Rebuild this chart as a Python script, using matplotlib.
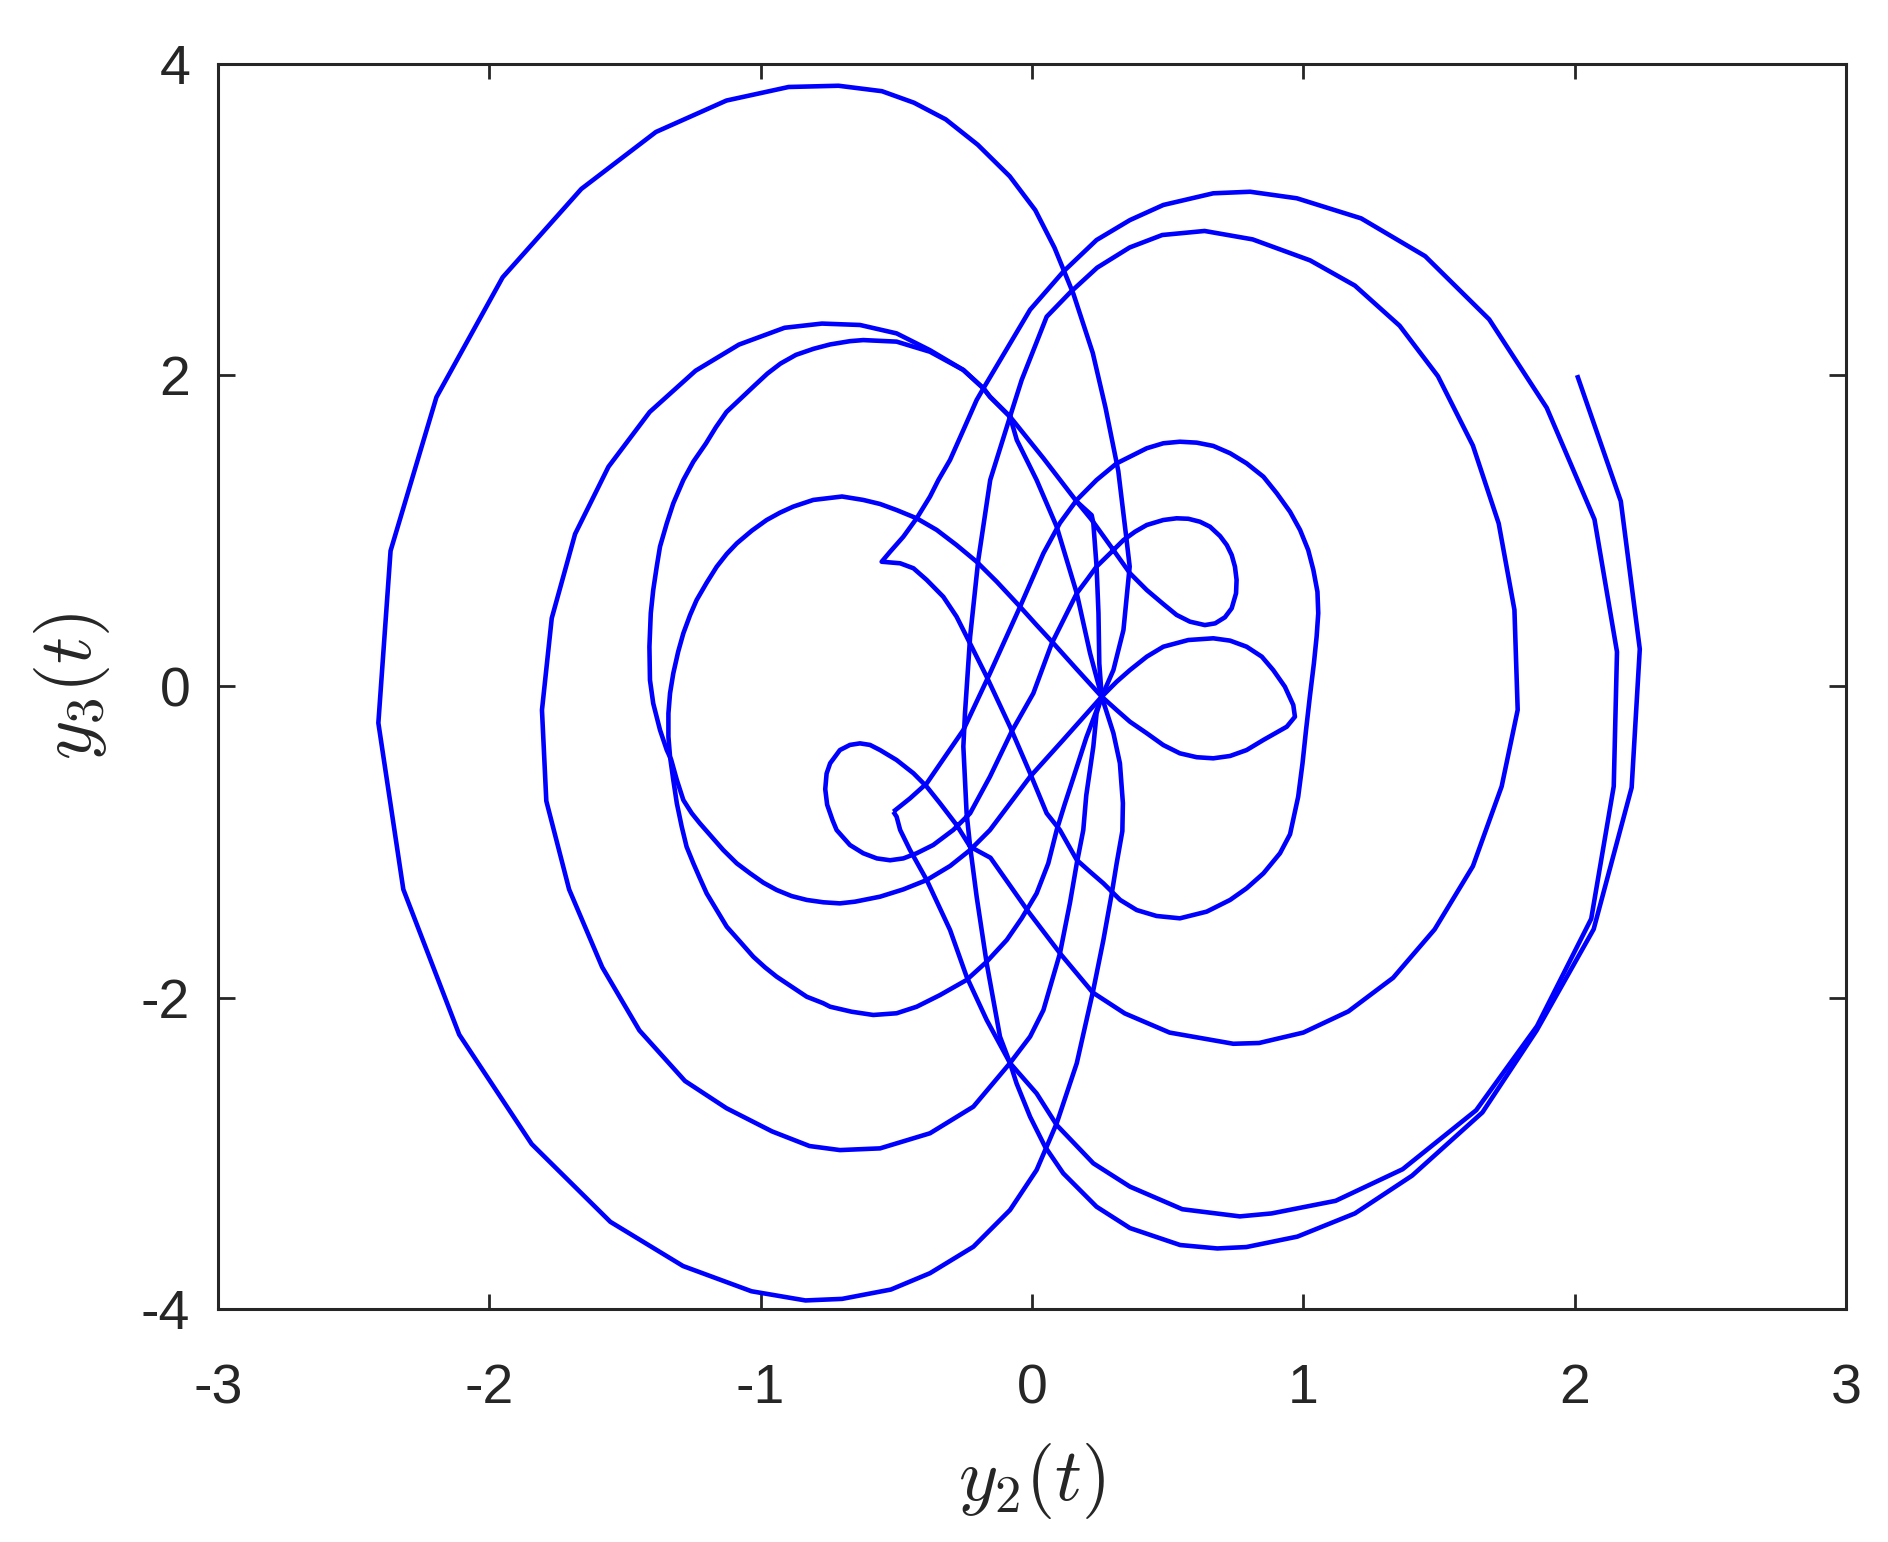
import matplotlib
matplotlib.use("Agg")
import matplotlib.pyplot as plt

plt.rcParams['font.family'] = ['Liberation Sans', 'DejaVu Sans']
plt.rcParams['mathtext.fontset'] = 'cm'
plt.rcParams['axes.unicode_minus'] = False

# ---- traced trajectory pieces (y2, y3) ----
start_y2 = [2.009, 2.17, 2.24, 2.21, 2.07, 1.86, 1.66, 1.401, 1.19, 0.978, 0.79, 0.683, 0.546, 0.361, 0.238, 0.115, 0.048, -0.007, -0.057, -0.081, -0.118, -0.167, -0.204, -0.228, -0.241, -0.253, -0.247, -0.228, -0.198, -0.154, -0.081, -0.038, 0.054, 0.14, 0.24, 0.36, 0.48, 0.636, 0.813, 1.025, 1.19, 1.355, 1.496, 1.625, 1.72, 1.778, 1.79, 1.731, 1.625, 1.484, 1.331, 1.166, 1.0, 0.837, 0.742, 0.507, 0.342, 0.224, 0.107, -0.011, -0.153, -0.228,
            -0.278, -0.339, -0.388, -0.437, -0.499, -0.560, -0.597, -0.634, -0.671, -0.708, -0.744, -0.757, -0.762, -0.755, -0.735, -0.720, -0.671, -0.622, -0.572, -0.523, -0.474, -0.425, -0.364, -0.29,
            -0.228, -0.155, -0.075, 0.005, 0.073, 0.165, 0.202, 0.238, 0.288, 0.337, 0.380, 0.423, 0.484, 0.533, 0.576, 0.619, 0.656, 0.693, 0.718, 0.736, 0.748, 0.754, 0.752, 0.736, 0.711, 0.675, 0.637, 0.582, 0.533, 0.484, 0.423, 0.361, 0.30, 0.22, 0.165, 0.042, -0.081, -0.155, -0.179,
            -0.253, -0.376, -0.499, -0.622, -0.671, -0.744, -0.805, -0.87, -0.927, -0.975, -1.019, -1.07, -1.126, -1.165, -1.202, -1.248, -1.285, -1.322, -1.346, -1.371, -1.383, -1.396, -1.405, -1.410, -1.408, -1.396, -1.371, -1.346, -1.33, -1.309, -1.285, -1.254, -1.224, -1.181, -1.138, -1.088, -1.039, -0.990, -0.941, -0.886, -0.830, -0.769, -0.708, -0.652, -0.560, -0.474, -0.388, -0.302, -0.228, -0.155, -0.007, 0.115, 0.257]
start_y3 = [2.0, 1.19, 0.24, -0.65, -1.56, -2.21, -2.737, -3.143, -3.386, -3.535, -3.602, -3.611, -3.589, -3.48, -3.343, -3.128, -2.957, -2.765, -2.55, -2.42, -2.25, -1.779, -1.351, -1.03, -0.815, -0.387, -0.173, 0.32, 0.812, 1.326, 1.733, 1.969, 2.375, 2.53, 2.69, 2.82, 2.9, 2.926, 2.872, 2.737, 2.575, 2.317, 1.993, 1.547, 1.047, 0.492, -0.151, -0.642, -1.155, -1.561, -1.872, -2.088, -2.224, -2.291, -2.296, -2.224, -2.101, -1.967, -1.723, -1.453, -1.101, -1.03,
            -0.890, -0.751, -0.644, -0.558, -0.473, -0.409, -0.376, -0.366, -0.376, -0.409, -0.494, -0.56, -0.66, -0.76, -0.86, -0.923, -1.019, -1.072, -1.105, -1.117, -1.105, -1.072, -1.019, -0.922,
            -0.815, -0.58, -0.29, -0.044, 0.277, 0.598, 0.684, 0.77, 0.855, 0.94, 0.994, 1.037, 1.069, 1.08, 1.077, 1.058, 1.026, 0.966, 0.908, 0.844, 0.769, 0.684, 0.598, 0.502, 0.444, 0.405, 0.394, 0.416, 0.459, 0.529, 0.619, 0.727, 0.876, 1.07, 1.187, 1.466, 1.733, 1.861, 1.915,
            2.033, 2.15, 2.215, 2.225, 2.218, 2.197, 2.169, 2.13, 2.074, 2.01, 1.939, 1.855, 1.763, 1.665, 1.56, 1.444, 1.326, 1.176, 1.048, 0.898, 0.77, 0.619, 0.470, 0.255, 0.041, -0.109, -0.280, -0.409, -0.47, -0.601, -0.730, -0.815, -0.880, -0.966, -1.051, -1.137, -1.201, -1.261, -1.308, -1.347, -1.372, -1.387, -1.394, -1.383, -1.351, -1.304, -1.244, -1.154, -1.051, -0.923, -0.58, -0.344, -0.066]

lobe_y2 = [0.257, 0.312, 0.361, 0.423, 0.484, 0.576, 0.668, 0.730, 0.791, 0.847, 0.889, 0.932, 0.963, 0.969, 0.939, 0.853, 0.791, 0.730, 0.668, 0.607, 0.545, 0.484, 0.423, 0.361, 0.312, 0.257, 0.248, 0.245, 0.238, 0.226, 0.22, 0.165]
lobe_y3 = [-0.066, 0.030, 0.105, 0.191, 0.255, 0.298, 0.309, 0.294, 0.255, 0.191, 0.105, -0.002, -0.120, -0.195, -0.259, -0.344, -0.409, -0.447, -0.462, -0.455, -0.430, -0.377, -0.301, -0.227, -0.152, -0.066, 0.148, 0.47, 0.77, 1.05, 1.10, 1.187]

cycle_y2 = [-0.511, -0.45, -0.388, -0.32, -0.253, -0.155, -0.044, 0.042, 0.103, 0.165, 0.238, 0.312, 0.423, 0.484, 0.545, 0.607, 0.668, 0.730, 0.791, 0.853, 0.902, 0.951, 0.988, 1.018, 1.037, 1.052, 1.055, 1.049, 1.039, 1.024, 1.010, 0.997, 0.981, 0.951, 0.914, 0.853, 0.791, 0.730, 0.644, 0.545, 0.459, 0.386, 0.325, 0.263, 0.214, 0.165, 0.103, 0.054, -0.007, -0.081, -0.167, -0.204, -0.241, -0.278, -0.327, -0.388, -0.437, -0.486, -0.554, -0.523, -0.474, -0.425, -0.376, -0.345, -0.302, -0.253, -0.204, -0.179, -0.007, 0.115, 0.238, 0.361, 0.484, 0.668, 0.804, 0.976, 1.213, 1.449, 1.685, 1.897, 2.073, 2.156, 2.144, 2.061, 1.861, 1.637, 1.366, 1.119, 0.883, 0.766, 0.554, 0.361, 0.226, 0.091, 0.017, -0.081, -0.167, -0.241, -0.302, -0.388, -0.45, -0.486, -0.499, -0.511]
cycle_y3 = [-0.805, -0.72, -0.623, -0.45, -0.28, 0.084, 0.512, 0.855, 1.05, 1.198, 1.326, 1.433, 1.530, 1.562, 1.572, 1.566, 1.545, 1.498, 1.433, 1.347, 1.241, 1.122, 1.005, 0.876, 0.748, 0.608, 0.470, 0.320, 0.149, -0.066, -0.280, -0.494, -0.709, -0.95, -1.072, -1.201, -1.297, -1.372, -1.447, -1.490, -1.475, -1.437, -1.372, -1.265, -1.191, -1.115, -0.923, -0.815, -0.558, -0.259, 0.062, 0.191, 0.320, 0.448, 0.576, 0.684, 0.759, 0.791, 0.801, 0.865, 0.962, 1.08, 1.219, 1.326, 1.455, 1.647, 1.84, 1.915, 2.42, 2.664, 2.868, 2.996, 3.093, 3.168, 3.178, 3.136, 3.007, 2.764, 2.358, 1.79, 1.073, 0.222, -0.642, -1.493, -2.183, -2.723, -3.102, -3.305, -3.386, -3.405, -3.359, -3.214, -3.064, -2.818, -2.615, -2.42, -2.143, -1.865, -1.565, -1.244, -1.05, -0.922, -0.837, -0.805]

loop12_y2 = [0.257, 0.165, 0.079, 0.017, -0.044, -0.130, -0.204, -0.278, -0.351, -0.425, -0.499, -0.560, -0.622, -0.70, -0.806, -0.880, -0.929, -0.978, -1.033, -1.088, -1.125, -1.162, -1.199, -1.236, -1.260, -1.285, -1.304, -1.322, -1.334, -1.340, -1.340, -1.334, -1.322, -1.309, -1.291, -1.273, -1.248, -1.224, -1.199, -1.162, -1.125, -1.076, -1.027, -0.984, -0.941, -0.886, -0.830, -0.77, -0.744, -0.665, -0.585, -0.499, -0.425, -0.339, -0.241, -0.167, -0.093, -0.038, 0.017, 0.060, 0.091, 0.12, 0.15, 0.2, 0.257]
loop12_y3 = [-0.066, 0.110, 0.277, 0.394, 0.512, 0.673, 0.801, 0.908, 1.005, 1.080, 1.133, 1.172, 1.198, 1.22, 1.198, 1.155, 1.116, 1.069, 1.0, 0.919, 0.851, 0.769, 0.666, 0.555, 0.459, 0.341, 0.223, 0.084, -0.044, -0.173, -0.323, -0.452, -0.601, -0.751, -0.901, -1.030, -1.137, -1.233, -1.330, -1.437, -1.544, -1.640, -1.737, -1.805, -1.865, -1.929, -1.994, -2.035, -2.058, -2.09, -2.111, -2.100, -2.058, -1.983, -1.886, -1.769, -1.629, -1.490, -1.330, -1.137, -0.923, -0.76, -0.6, -0.33, -0.066]

loop2_y2 = [-0.179, -0.253, -0.376, -0.499, -0.634, -0.774, -0.912, -1.08, -1.24, -1.409, -1.561, -1.684, -1.77, -1.806, -1.79, -1.706, -1.584, -1.447, -1.279, -1.126, -0.958, -0.82, -0.708, -0.56, -0.376, -0.216, -0.081, -0.007, 0.042, 0.103, 0.14, 0.165, 0.189, 0.2, 0.226, 0.238, 0.257, 0.214, 0.165, 0.091, 0.017, -0.056, -0.081, -0.155, -0.179]
loop2_y3 = [1.915, 2.033, 2.16, 2.268, 2.322, 2.331, 2.304, 2.196, 2.028, 1.763, 1.411, 0.979, 0.438, -0.152, -0.736, -1.304, -1.804, -2.21, -2.535, -2.71, -2.859, -2.953, -2.979, -2.968, -2.871, -2.70, -2.42, -2.25, -2.08, -1.715, -1.39, -1.137, -0.923, -0.7, -0.387, -0.173, -0.066, 0.213, 0.598, 1.026, 1.326, 1.583, 1.733, 1.861, 1.915]

big_y2 = [0.257, 0.30, 0.324, 0.335, 0.333, 0.312, 0.294, 0.263, 0.226, 0.165, 0.091, 0.017, -0.081, -0.216, -0.376, -0.52, -0.70, -0.835, -1.034, -1.286, -1.554, -1.844, -2.111, -2.317, -2.409, -2.364, -2.195, -1.951, -1.661, -1.386, -1.126, -0.897, -0.713, -0.553, -0.435, -0.318, -0.2, -0.082, 0.012, 0.083, 0.153, 0.224, 0.271, 0.318, 0.346, 0.36, 0.337, 0.30, 0.257]
big_y3 = [-0.066, -0.30, -0.494, -0.75, -0.93, -1.137, -1.33, -1.63, -1.95, -2.421, -2.807, -3.107, -3.364, -3.60, -3.77, -3.875, -3.935, -3.945, -3.886, -3.724, -3.44, -2.94, -2.237, -1.304, -0.235, 0.871, 1.858, 2.628, 3.196, 3.562, 3.764, 3.851, 3.859, 3.824, 3.75, 3.643, 3.48, 3.277, 3.06, 2.818, 2.52, 2.142, 1.79, 1.384, 0.979, 0.77, 0.362, 0.105, -0.066]

pieces = [(start_y2, start_y3), (lobe_y2, lobe_y3), (cycle_y2, cycle_y3),
          (loop12_y2, loop12_y3), (loop2_y2, loop2_y3), (big_y2, big_y3)]

xticks = [-3, -2, -1, 0, 1, 2, 3]
yticks = [-4, -2, 0, 2, 4]

W, H = 1888, 1542
fig = plt.figure(figsize=(W / 100, H / 100), dpi=100)
ax = fig.add_axes([218 / W, 1 - 1309 / H, (1846 - 218) / W, (1309 - 63.8) / H])
for px, py in pieces:
    ax.plot(px, py, color='#0000ff', lw=3.3, solid_joinstyle='round', solid_capstyle='butt')

ax.set_xlim(-3, 3)
ax.set_ylim(-4, 4)
ax.set_xticks(xticks)
ax.set_yticks(yticks)
ax.set_xticklabels([str(t) for t in xticks])
ax.set_yticklabels([str(t) for t in yticks])
dark = '#262626'
for s in ax.spines.values():
    s.set_linewidth(2.2)
    s.set_color(dark)
ax.tick_params(which='both', direction='in', top=True, right=True, colors=dark,
               labelsize=40, width=2.0)
ax.tick_params(axis='x', length=11, pad=39)
ax.tick_params(axis='y', length=12.5, pad=20)

fig.text(1032 / W, 1 - 1481 / H, r'$y_2(t)$', ha='center', va='center', fontsize=54, color=dark)
fig.text(72 / W, 1 - 686 / H, r'$y_3(t)$', ha='center', va='center', fontsize=54, color=dark, rotation=90)

fig.savefig('out.png', dpi=100)
